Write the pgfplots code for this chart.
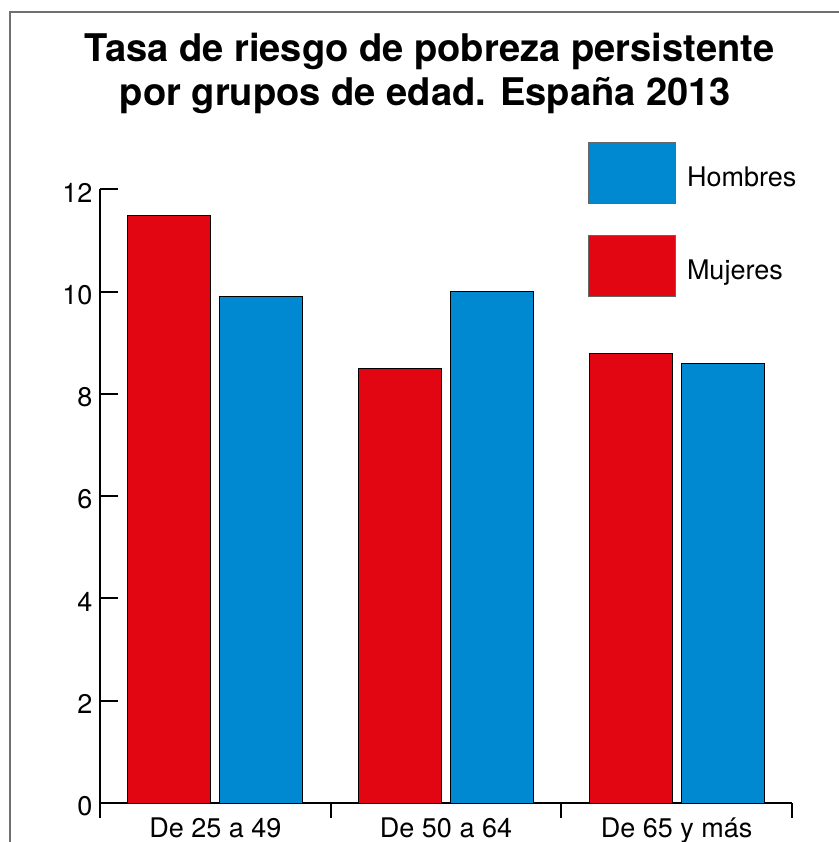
\documentclass[border=0pt]{standalone}
\usepackage{fontspec}
\setmainfont{TeX Gyre Heros}
\usepackage{pgfplots}
\pgfplotsset{compat=1.18}
\definecolor{myred}{RGB}{226,6,19}
\definecolor{myblue}{RGB}{0,137,208}
\definecolor{framegray}{RGB}{112,112,112}
\begin{document}
\begin{tikzpicture}[x=1pt,y=1pt]
\useasboundingbox (0,0) rectangle (838,842);
\draw[framegray, line width=2.2pt] (10,830) rectangle (870,-30);
\node[font=\bfseries\fontsize{38.1}{44}\selectfont, anchor=base, inner sep=0pt] at (429.5,780.5) {Tasa de riesgo de pobreza persistente};
\node[font=\bfseries\fontsize{38.1}{44}\selectfont, anchor=base, inner sep=0pt] at (425.5,736.5) {por grupos de edad. España 2013};
\begin{axis}[
  at={(100pt,39pt)}, anchor=south west,
  scale only axis, width=692pt, height=613.5pt,
  xmin=0, xmax=3, ymin=0, ymax=12,
  axis lines*=left,
  axis line style={line width=2pt, black},
  ytick={0,2,4,6,8,10,12},
  ytick align=inside, xtick align=inside,
  major tick length=18pt,
  minor tick length=15pt,
  xtick={0.5,1.5,2.5},
  xticklabels={De 25 a 49, De 50 a 64, De 65 y más},
  minor xtick={0,1,2,3},
  major x tick style={draw=none},
  minor x tick style={line width=2pt, black},
  major y tick style={line width=2pt, black},
  tick label style={font=\fontsize{27}{31}\selectfont},
  /pgf/number format/assume math mode=true,
  yticklabel style={xshift=-4pt, yshift=-3pt},
  xticklabel style={yshift=7pt},
  ybar, bar width=83pt,
  reverse legend,
  legend style={at={(0.7052,1.0774)}, anchor=north west, draw=none, fill=none,
    inner sep=0pt, outer sep=0pt, row sep=31pt, column sep=11pt,
    font=\fontsize{27}{31}\selectfont,
    nodes={inner sep=0pt, outer sep=0pt}},
  legend cell align=left,
  legend image code/.code={\draw[#1, draw=black!60, line width=1pt] (0pt,-26pt) rectangle (87pt,35pt);},
]
\addplot[fill=myred, draw=black, line width=0.8pt, bar shift=-46pt] coordinates {(0.5,11.5) (1.5,8.5) (2.5,8.8)};
\addlegendentry{Mujeres}
\addplot[fill=myblue, draw=black, line width=0.8pt, bar shift=46pt] coordinates {(0.5,9.9) (1.5,10.0) (2.5,8.6)};
\addlegendentry{Hombres}
\end{axis}
\end{tikzpicture}
\end{document}
